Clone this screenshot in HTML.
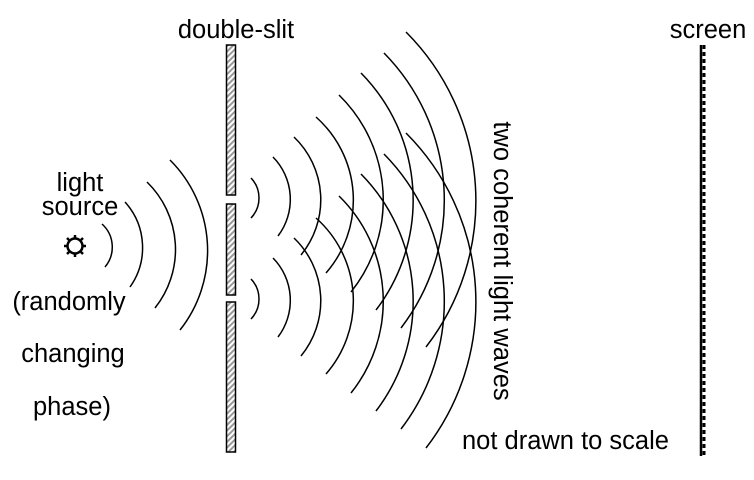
<!DOCTYPE html>
<html><head><meta charset="utf-8"><style>
html,body{margin:0;padding:0;background:#fff}
svg{display:block}
text{font-family:"Liberation Sans",Arial,sans-serif;font-size:25.5px;fill:#000}
</style></head><body>
<svg width="754" height="480" viewBox="0 0 754 480" xmlns="http://www.w3.org/2000/svg">
<defs>
<pattern id="h" width="4" height="4" patternUnits="userSpaceOnUse" patternTransform="rotate(45)">
<rect width="4" height="4" fill="#fff"/><rect width="2" height="4" fill="#999"/>
</pattern>
</defs>
<g fill="none" stroke="#000" stroke-width="1.5">
<path d="M102,224 A31,31 0 0 1 105,267"/>
<path d="M125,202 A68,68 0 0 1 130,287"/>
<path d="M147,182 A94,94 0 0 1 155,308"/>
<path d="M170,160 A128,128 0 0 1 180,330"/>
<g id="ta">
<path d="M251,178 A29,29 0 0 1 251,218"/>
<path d="M273,157 A60.5,60.5 0 0 1 278,236"/>
<path d="M294,137 A87,87 0 0 1 301,255"/>
<path d="M316,117 A111,111 0 0 1 326,273"/>
<path d="M339,95 A147,147 0 0 1 351,292"/>
<path d="M361,73 A181,181 0 0 1 376,310"/>
<path d="M384,53 A210,210 0 0 1 401,328"/>
<path d="M406,32 A239,239 0 0 1 426,347"/>
</g>
<g transform="translate(0,101)">
<path d="M251,178 A29,29 0 0 1 251,218"/>
<path d="M273,157 A60.5,60.5 0 0 1 278,236"/>
<path d="M294,137 A87,87 0 0 1 301,255"/>
<path d="M316,117 A111,111 0 0 1 326,273"/>
<path d="M339,95 A147,147 0 0 1 351,292"/>
<path d="M361,73 A181,181 0 0 1 376,310"/>
<path d="M384,53 A210,210 0 0 1 401,328"/>
<path d="M406,32 A239,239 0 0 1 426,347"/>
</g>
</g>
<g fill="url(#h)" stroke="#000" stroke-width="1.5">
<rect x="226.5" y="45" width="9" height="150"/>
<rect x="226.5" y="204" width="9" height="91"/>
<rect x="226.5" y="302" width="9" height="150"/>
</g>
<line x1="701" y1="45" x2="701" y2="456" stroke="#000" stroke-width="2.5"/>
<line x1="704" y1="45" x2="704" y2="456" stroke="#000" stroke-width="3" stroke-dasharray="4,3"/>
<g stroke="#000" stroke-width="2.5" fill="none">
<circle cx="75" cy="246" r="7.5"/>
<line x1="75" y1="235" x2="75" y2="238"/>
<line x1="75" y1="254" x2="75" y2="257"/>
<line x1="64" y1="246" x2="67" y2="246"/>
<line x1="83" y1="246" x2="86" y2="246"/>
<line x1="67" y1="238" x2="69" y2="240"/>
<line x1="81" y1="252" x2="83" y2="254"/>
<line x1="67" y1="254" x2="69" y2="252"/>
<line x1="81" y1="240" x2="83" y2="238"/>
</g>
<text x="236" y="38" text-anchor="middle">double-slit</text>
<text x="708" y="38" text-anchor="middle">screen</text>
<text x="80" y="191" text-anchor="middle">light</text>
<text x="80" y="215" text-anchor="middle">source</text>
<text x="69" y="310" text-anchor="middle">(randomly</text>
<text x="73" y="362" text-anchor="middle">changing</text>
<text x="72" y="415" text-anchor="middle">phase)</text>
<text x="462" y="449">not drawn to scale</text>
<text transform="translate(494,261) rotate(90)" text-anchor="middle">two coherent  light waves</text>
</svg>
</body></html>
